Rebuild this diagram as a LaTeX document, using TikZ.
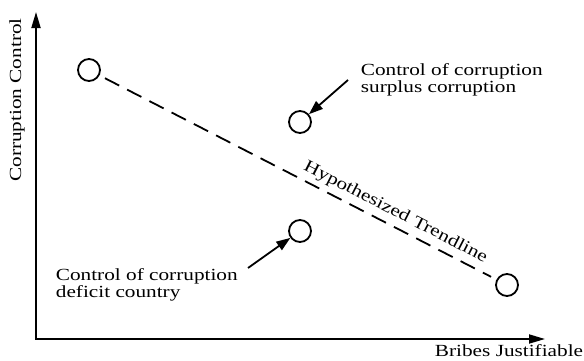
\documentclass[tikz,border=0pt]{standalone}
\usepackage{fontspec}
\setmainfont[FakeStretch=1.25]{Liberation Serif}
\usetikzlibrary{arrows.meta}

\begin{document}
\begin{tikzpicture}[x=1pt, y=1pt, line width=1.8pt,
  dot/.style={circle, draw, minimum size=22pt, inner sep=0pt},
  lbl/.style={font=\fontsize{17}{17}\selectfont, align=left, inner sep=0pt}]
\useasboundingbox (0,0) rectangle (584,360);

% axes
\coordinate (ytop) at (36,348);
\coordinate (o) at (36,21);
\coordinate (xend) at (545,21);
\draw[{Triangle[length=16pt,width=9pt]}-{Triangle[length=16pt,width=9pt]}]
	(ytop) -- (o) -- (xend);
\node[lbl, rotate=90] (ylab) at (17,260) {Corruption Control};
\node[lbl, anchor=east] (xlab) at (584,9) {Bribes Justifiable};

% countries
\node[dot] (a) at (89,290) {};
\node[dot] (b) at (300,238) {};
\node[dot] (c) at (300,129) {};
\node[dot] (d) at (507,75) {};

\draw[dashed, dash pattern=on 16pt off 9pt, shorten <=6pt, shorten >=6pt]
	(a) -- (d) node[pos=0.73, sloped, above=5pt, lbl] (trend) {Hypothesized Trendline};

% labels
\node[lbl, anchor=west] (surplus) at (360,280) {Control of corruption\\surplus corruption};
\node[lbl, anchor=west] (deficit) at (55,75) {Control of corruption\\deficit country};
\coordinate (s0) at (348,280);
\coordinate (d0) at (248,92);
\draw[-{Triangle[length=14pt,width=10pt]}] (s0) -- (b);
\draw[-{Triangle[length=14pt,width=10pt]}] (d0) -- (c);
\end{tikzpicture}
\end{document}
